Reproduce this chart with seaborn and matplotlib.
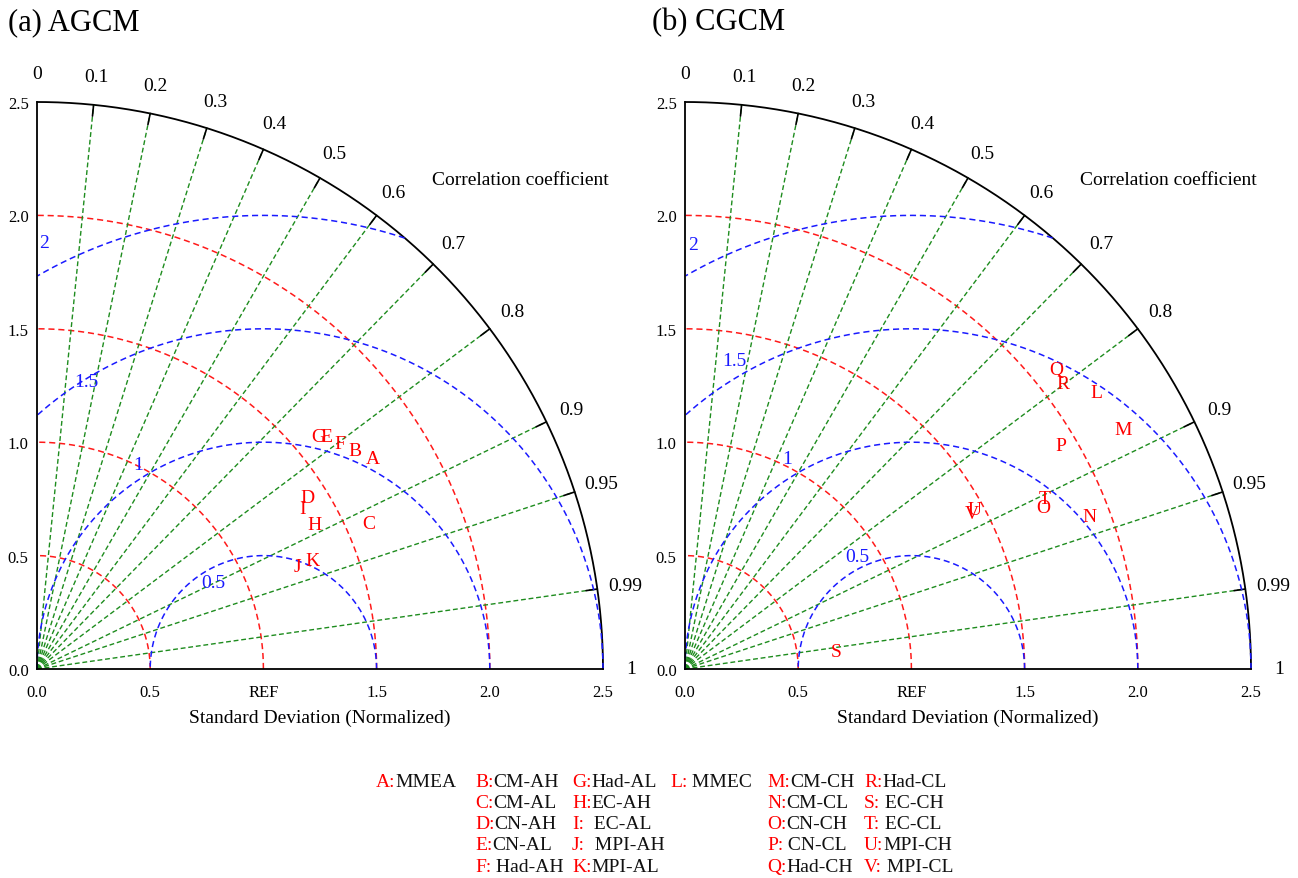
import numpy as np
import matplotlib
matplotlib.use("Agg")
import matplotlib.pyplot as plt
import seaborn as sns

sns.set_theme(style="white")
plt.rcParams["font.family"] = ["Liberation Serif", "DejaVu Serif"]
plt.rcParams["text.color"] = "black"
plt.rcParams["axes.labelcolor"] = "black"

# ---- data (normalized std, correlation) ----
agcm_letters = ["A", "B", "C", "D", "E", "F", "G", "H", "I", "J", "K"]
agcm_std = [1.749, 1.703, 1.599, 1.416, 1.639, 1.665, 1.611, 1.382, 1.370, 1.237, 1.308]
agcm_corr = [0.848, 0.824, 0.916, 0.845, 0.781, 0.803, 0.772, 0.888, 0.857, 0.931, 0.931]

cgcm_letters = ["L", "M", "N", "O", "P", "Q", "R", "S", "T", "U", "V"]
cgcm_std = [2.188, 2.202, 1.909, 1.733, 1.929, 2.105, 2.089, 0.671, 1.757, 1.460, 1.440]
cgcm_corr = [0.831, 0.878, 0.936, 0.912, 0.860, 0.778, 0.798, 0.993, 0.904, 0.877, 0.880]

corr_lines = [0.1, 0.2, 0.3, 0.4, 0.5, 0.6, 0.7, 0.8, 0.9, 0.95, 0.99]
corr_labels = [0, 0.1, 0.2, 0.3, 0.4, 0.5, 0.6, 0.7, 0.8, 0.9, 0.95, 0.99, 1]
std_circles = [0.5, 1.0, 1.5, 2.0]
rms_circles = [0.5, 1.0, 1.5, 2.0]
rms_labels = ["0.5", "1", "1.5", "2"]
x_ticklabels = ["0.0", "0.5", "REF", "1.5", "2.0", "2.5"]
y_ticklabels = ["0.0", "0.5", "1.0", "1.5", "2.0", "2.5"]

legend_cols = [
    [("A:", "MMEA")],
    [("B:", "CM-AH"), ("C:", "CM-AL"), ("D:", "CN-AH"), ("E:", "CN-AL"), ("F:", " Had-AH")],
    [("G:", "Had-AL"), ("H:", "EC-AH"), ("I:", "  EC-AL"), ("J:", "  MPI-AH"), ("K:", "MPI-AL")],
    [("L:", " MMEC")],
    [("M:", "CM-CH"), ("N:", "CM-CL"), ("O:", "CN-CH"), ("P:", " CN-CL"), ("Q:", "Had-CH")],
    [("R:", "Had-CL"), ("S:", " EC-CH"), ("T:", " EC-CL"), ("U:", "MPI-CH"), ("V:", " MPI-CL")],
]

RMAX = 2.5
RED, BLUE, GREEN = "#ff1a1a", "#1a1aff", "#1e8c1e"


def taylor(ax, stds, corrs, letters, rms_pos):
    th = np.linspace(0, np.pi / 2, 300)
    for r in std_circles:
        ax.plot(r * np.cos(th), r * np.sin(th), color=RED, lw=1.1,
                dashes=(4, 2.5), clip_on=False)
    ax.plot(RMAX * np.cos(th), RMAX * np.sin(th), color="black", lw=1.3, clip_on=False)

    for c in corr_lines:
        a = np.arccos(c)
        ax.plot([0, RMAX * np.cos(a)], [0, RMAX * np.sin(a)], color=GREEN, lw=1.0,
                dashes=(3.5, 2), clip_on=False)
        ax.plot([2.45 * np.cos(a), RMAX * np.cos(a)], [2.45 * np.sin(a), RMAX * np.sin(a)],
                color="black", lw=1.2, clip_on=False)
    for c in corr_labels:
        a = np.arccos(c)
        ax.text(2.625 * np.cos(a), 2.625 * np.sin(a), f"{c:g}", ha="center", va="center",
                fontsize=14)

    phi = np.linspace(0, np.pi, 600)
    for rr, lab, (lx, ly) in zip(rms_circles, rms_labels, rms_pos):
        x = 1 + rr * np.cos(phi)
        y = rr * np.sin(phi)
        m = (x >= 0) & (x ** 2 + y ** 2 <= RMAX ** 2 + 1e-9)
        ax.plot(x[m], y[m], color=BLUE, lw=1.1, dashes=(4, 2.5), clip_on=False)
        ax.text(lx, ly, lab, color=BLUE, fontsize=14, ha="center", va="center")

    px = np.array(stds) * np.array(corrs)
    py = np.array(stds) * np.sqrt(1 - np.array(corrs) ** 2)
    for xx, yy, l in zip(px, py, letters):
        ax.text(xx, yy, l, color="red", fontsize=14, ha="center", va="center")

    ax.set_xlim(0, RMAX)
    ax.set_ylim(0, RMAX)
    ax.set_xticks([0, 0.5, 1, 1.5, 2, 2.5])
    ax.set_xticklabels(x_ticklabels)
    ax.set_yticks([0, 0.5, 1, 1.5, 2, 2.5])
    ax.set_yticklabels(y_ticklabels)
    ax.tick_params(axis="x", length=0, pad=11, labelsize=12, colors="black")
    ax.tick_params(axis="y", length=0, pad=6, labelsize=12, colors="black")
    ax.set_xlabel("Standard Deviation (Normalized)", fontsize=14, labelpad=6)
    ax.text(2.134, 2.16, "Correlation coefficient", ha="center", va="center", fontsize=14)
    for s in ["top", "right"]:
        ax.spines[s].set_visible(False)
    for s in ["left", "bottom"]:
        ax.spines[s].set_color("black")
        ax.spines[s].set_linewidth(1.3)
    ax.set_facecolor("white")
    ax.grid(False)
    return ax


W, H = 1298, 879
fig = plt.figure(figsize=(W / 100, H / 100), dpi=100)
ax1 = fig.add_axes([37 / W, 209 / H, 566 / W, 567 / H])
ax2 = fig.add_axes([685 / W, 209 / H, 566 / W, 567 / H])

taylor(ax1, agcm_std, agcm_corr, agcm_letters,
       [(0.777, 0.38), (0.447, 0.90), (0.216, 1.267), (0.03, 1.88)])
taylor(ax2, cgcm_std, cgcm_corr, cgcm_letters,
       [(0.759, 0.494), (0.45, 0.927), (0.216, 1.36), (0.035, 1.87)])

fig.text(8 / W, 1 - 23 / H, "(a) AGCM", fontsize=22, ha="left", va="center")
fig.text(652 / W, 1 - 23 / H, "(b) CGCM", fontsize=22, ha="left", va="center")

# legend block
col_x = [376, 475, 572, 670, 767, 864]
row_y = [783, 804, 825, 846, 868]
for cx, entries in zip(col_x, legend_cols):
    for ry, (key, name) in zip(row_y, entries):
        t = fig.text(cx / W, 1 - ry / H, key, color="red", fontsize=14, ha="left",
                     va="center")
        ax1.annotate(name, xy=(1, 0.5), xycoords=t, ha="left", va="center",
                     fontsize=14, color="#111111", annotation_clip=False)

fig.savefig("out.png", dpi=100, facecolor="white")
